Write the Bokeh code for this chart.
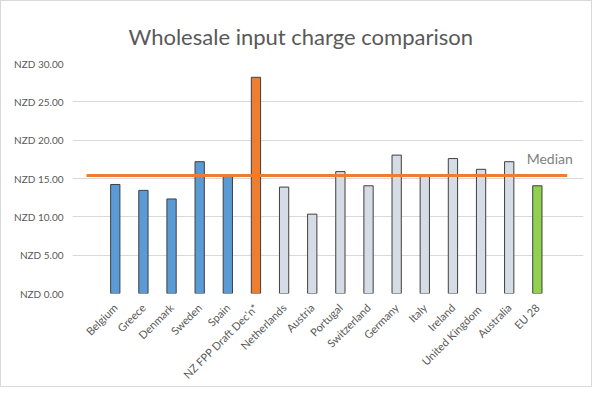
from math import pi
from bokeh.plotting import figure
from bokeh.models import ColumnDataSource, Range1d, FixedTicker, Label, CustomJSTickFormatter
from bokeh.embed import file_html
from bokeh.resources import INLINE

categories = ["Belgium", "Greece", "Denmark", "Sweden", "Spain", "NZ FPP Draft Dec'n*",
              "Netherlands", "Austria", "Portugal", "Switzerland", "Germany", "Italy",
              "Ireland", "United  Kingdom", "Australia", "EU 28"]
values = [14.22, 13.45, 12.33, 17.19, 15.38, 28.2,
          13.88, 10.35, 15.9, 14.05, 18.05, 15.38,
          17.6, 16.2, 17.19, 14.05]
groups = ["eu_core"] * 5 + ["nz"] + ["other"] * 9 + ["eu28"]
median_value = 15.4
y_ticks = [0, 5, 10, 15, 20, 25, 30]
title_text = "Wholesale input charge comparison"

palette = {"eu_core": "#5B9BD5", "nz": "#ED7D31", "other": "#D6DCE5", "eu28": "#92D050"}

xs = list(range(len(categories)))
src = ColumnDataSource(dict(x=xs, top=values, color=[palette[g] for g in groups]))

p = figure(width=592, height=387, output_backend="svg", toolbar_location=None,
           x_range=Range1d(-1.52, len(categories) + 0.64), y_range=Range1d(0, 30),
           min_border_left=71, min_border_right=10, min_border_top=62, min_border_bottom=89)

p.title.text = title_text
p.title.align = "left"
p.title.offset = 56
p.title.text_font = "Lato"
p.title.text_font_size = "22px"
p.title.text_font_style = "normal"
p.title.text_color = "#595959"
p.title.standoff = 28

p.vbar(x="x", top="top", width=0.33, source=src, fill_color="color",
       line_color="#3F3F3F", line_width=1)

p.segment(x0=[-1.02], x1=[len(categories) + 0.06], y0=[median_value], y1=[median_value],
          line_color="#ED7D31", line_width=3)

p.add_layout(Label(x=len(categories) - 1.38, y=median_value, y_offset=17, text="Median",
                   text_font="Lato", text_font_size="14px", text_color="#7F7F7F",
                   text_baseline="alphabetic"))

p.xaxis.ticker = FixedTicker(ticks=xs)
p.xaxis.major_label_overrides = {i: c for i, c in enumerate(categories)}
p.xaxis.major_label_orientation = pi / 4
p.yaxis.ticker = FixedTicker(ticks=y_ticks)
p.yaxis.formatter = CustomJSTickFormatter(code="return 'NZD ' + tick.toFixed(2);")

for ax in (p.xaxis[0], p.yaxis[0]):
    ax.axis_line_color = None
    ax.major_tick_line_color = None
    ax.minor_tick_line_color = None
    ax.major_label_text_font = "Lato"
    ax.major_label_text_font_size = "11px"
    ax.major_label_text_color = "#595959"
p.yaxis.major_label_text_font_size = "10px"
p.xaxis.major_label_standoff = 6
p.yaxis.major_label_standoff = 3

p.xgrid.grid_line_color = None
p.ygrid.grid_line_color = "#D9D9D9"
p.ygrid.grid_line_width = 1
p.outline_line_color = None
p.background_fill_color = "white"
p.border_fill_color = "white"
p.styles = {"border": "1px solid #D9D9D9"}

open("out.html", "w").write(file_html(p, INLINE))
